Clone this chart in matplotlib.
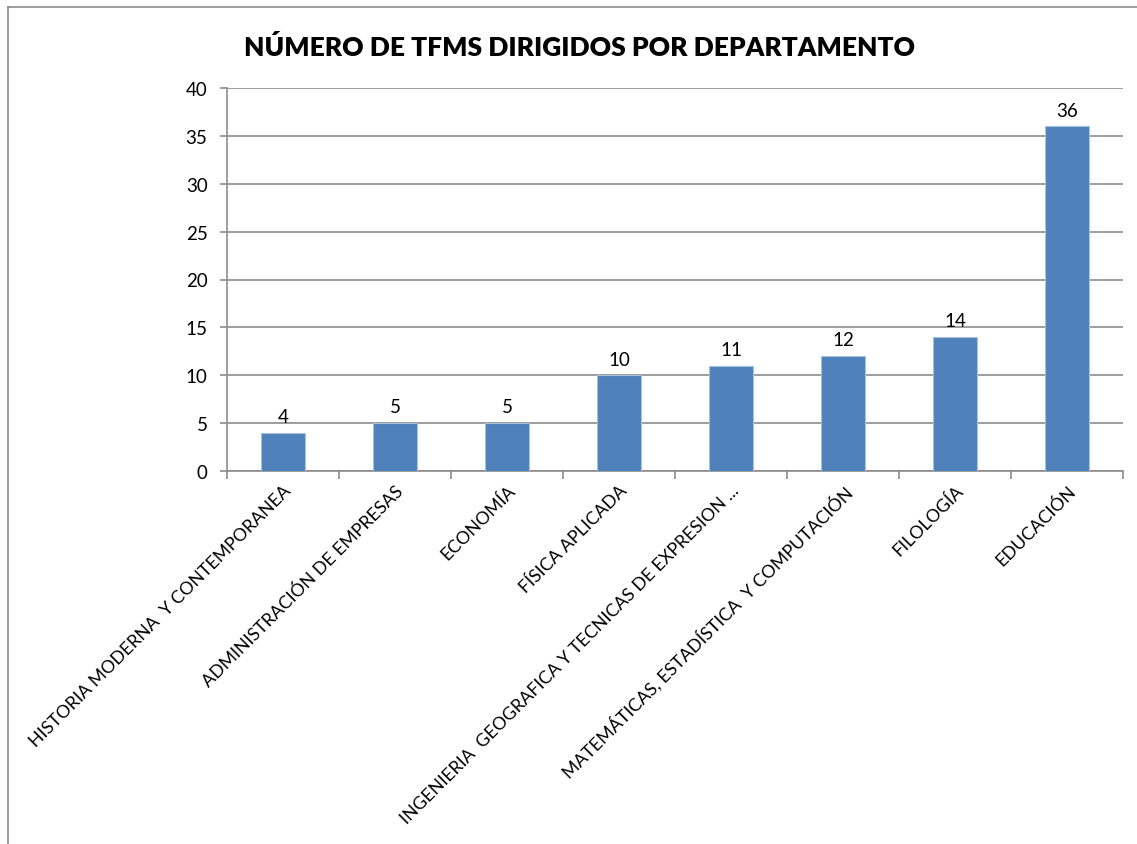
import matplotlib.pyplot as plt
import numpy as np
from matplotlib.lines import Line2D

departments = [
    "HISTORIA MODERNA  Y CONTEMPORANEA",
    "ADMINISTRACIÓN DE EMPRESAS",
    "ECONOMÍA",
    "FÍSICA APLICADA",
    "INGENIERIA  GEOGRAFICA Y TECNICAS DE EXPRESION ...",
    "MATEMÁTICAS, ESTADÍSTICA  Y COMPUTACIÓN",
    "FILOLOGÍA",
    "EDUCACIÓN",
]
tfms = [4, 5, 5, 10, 11, 12, 14, 36]
yticks = [0, 5, 10, 15, 20, 25, 30, 35, 40]

plt.rcParams["font.family"] = ["Lato", "DejaVu Sans"]

W, H = 1137, 845
fig = plt.figure(figsize=(W / 100, H / 100), dpi=100)

# outer chart frame (top and left edges only visible)
fig.add_artist(Line2D([8 / W, 1], [1 - 8 / H, 1 - 8 / H], color="#8c8c8c", lw=1.2))
fig.add_artist(Line2D([8 / W, 8 / W], [0, 1 - 8 / H], color="#8c8c8c", lw=1.2))

left, right, top, bottom = 227, 1123, 89, 472
ax = fig.add_axes([left / W, 1 - bottom / H, (right - left) / W, (bottom - top) / H])

x = np.arange(len(tfms))
ax.bar(x, tfms, width=0.4, color="#4f81bd", edgecolor="#a7c0de", linewidth=0.8, zorder=3)
for xi, v in zip(x, tfms):
    ax.text(xi, v + 0.8, str(v), ha="center", va="bottom", fontsize=13.5, color="black")

ax.set_xlim(-0.5, len(tfms) - 0.5)
ax.set_ylim(0, 40)
ax.set_yticks(yticks)
ax.tick_params(axis="y", labelsize=13.5, length=5, color="#8c8c8c", width=1.2, pad=9)
ax.grid(axis="y", color="#8c8c8c", lw=1.2, zorder=0)

# category boundary ticks on x, labels centred on bars
ax.set_xticks(np.arange(len(tfms) + 1) - 0.5)
ax.set_xticklabels([])
ax.tick_params(axis="x", length=6, color="#8c8c8c", width=1.2)
ax.set_xticks(x, minor=True)
ax.set_xticklabels(departments, minor=True, rotation=45, ha="right",
                   rotation_mode="anchor", fontsize=12.8)
ax.tick_params(axis="x", which="minor", length=0, pad=8)

for s in ["top", "right"]:
    ax.spines[s].set_visible(False)
for s in ["left", "bottom"]:
    ax.spines[s].set_color("#8c8c8c")
    ax.spines[s].set_linewidth(1.2)
ax.spines["left"].set_zorder(4)

fig.text(580 / W, 1 - 47 / H, "NÚMERO DE TFMS DIRIGIDOS POR DEPARTAMENTO",
         ha="center", va="center", fontsize=19, fontweight="heavy")

fig.savefig("out.png", dpi=100)
